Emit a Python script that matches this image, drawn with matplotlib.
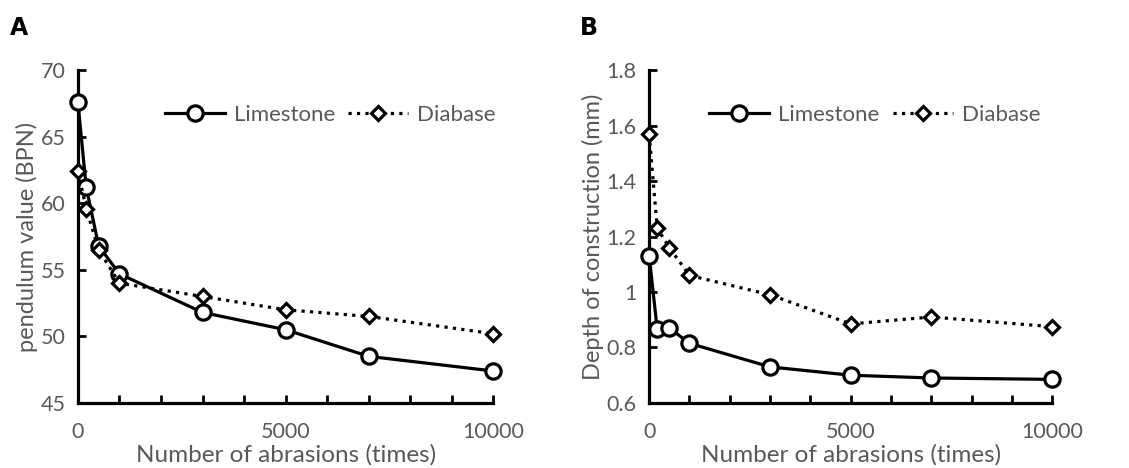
import matplotlib.pyplot as plt
from matplotlib.ticker import MultipleLocator

plt.rcParams['font.family'] = ['Lato', 'DejaVu Sans']

# abrasion counts shared by both panels
abrasions = [0, 200, 500, 1000, 3000, 5000, 7000, 10000]

# panel A: pendulum value (BPN)
bpn_limestone = [67.6, 61.2, 56.8, 54.7, 51.8, 50.5, 48.5, 47.4]
bpn_diabase = [62.4, 59.6, 56.5, 54.0, 53.0, 52.0, 51.5, 50.2]

# panel B: depth of construction (mm)
depth_limestone = [1.13, 0.865, 0.87, 0.815, 0.73, 0.70, 0.69, 0.685]
depth_diabase = [1.57, 1.23, 1.16, 1.06, 0.99, 0.885, 0.91, 0.875]

xticks = [0, 5000, 10000]
gray = '#595959'

fig = plt.figure(figsize=(11.29, 4.68), dpi=100)
axA = fig.add_axes([0.069, 0.139, 0.368, 0.711])
axB = fig.add_axes([0.575, 0.139, 0.357, 0.711])

panels = [
    (axA, bpn_limestone, bpn_diabase, (45, 70), 'pendulum value (BPN)', [45, 50, 55, 60, 65, 70], None, 0.607),
    (axB, depth_limestone, depth_diabase, (0.6, 1.8), 'Depth of construction (mm)',
     [0.6, 0.8, 1.0, 1.2, 1.4, 1.6, 1.8], ['0.6', '0.8', '1', '1.2', '1.4', '1.6', '1.8'], 0.56),
]

for ax, lime, dia, ylim, ylabel, yt, ytl, legx in panels:
    ax.plot(abrasions, lime, '-', color='black', lw=2.3, marker='o', ms=11,
            mfc='white', mew=2.3, label='Limestone', clip_on=False, zorder=3)
    ax.plot(abrasions, dia, ':', color='black', lw=2.3, marker='D', ms=7.5,
            mfc='white', mew=2.3, label='Diabase', clip_on=False, zorder=4)
    ax.set_xlim(0, 10000)
    ax.set_ylim(*ylim)
    ax.set_xticks(xticks)
    ax.xaxis.set_minor_locator(MultipleLocator(1000))
    ax.set_yticks(yt)
    if ytl:
        ax.set_yticklabels(ytl)
    for s in ['top', 'right']:
        ax.spines[s].set_visible(False)
    for s in ['left', 'bottom']:
        ax.spines[s].set_linewidth(2.3)
    ax.tick_params(which='both', direction='in', length=6, width=2.0, colors='black',
                   labelcolor=gray, labelsize=15.5)
    ax.tick_params(axis='x', pad=14)
    ax.tick_params(axis='y', pad=9)
    ax.set_xlabel('Number of abrasions (times)', color=gray, fontsize=17.5, labelpad=1)
    ax.set_ylabel(ylabel, color=gray, fontsize=17, labelpad=2)
    ax.legend(loc='center', bbox_to_anchor=(legx, 0.865), ncol=2, frameon=False,
              fontsize=16, labelcolor=gray, handlelength=2.7, columnspacing=0.6,
              handletextpad=0.4)

fig.text(0.009, 0.925, 'A', fontsize=17, fontweight='bold', family='DejaVu Sans')
fig.text(0.514, 0.925, 'B', fontsize=17, fontweight='bold', family='DejaVu Sans')

fig.savefig('out.png', dpi=100)
